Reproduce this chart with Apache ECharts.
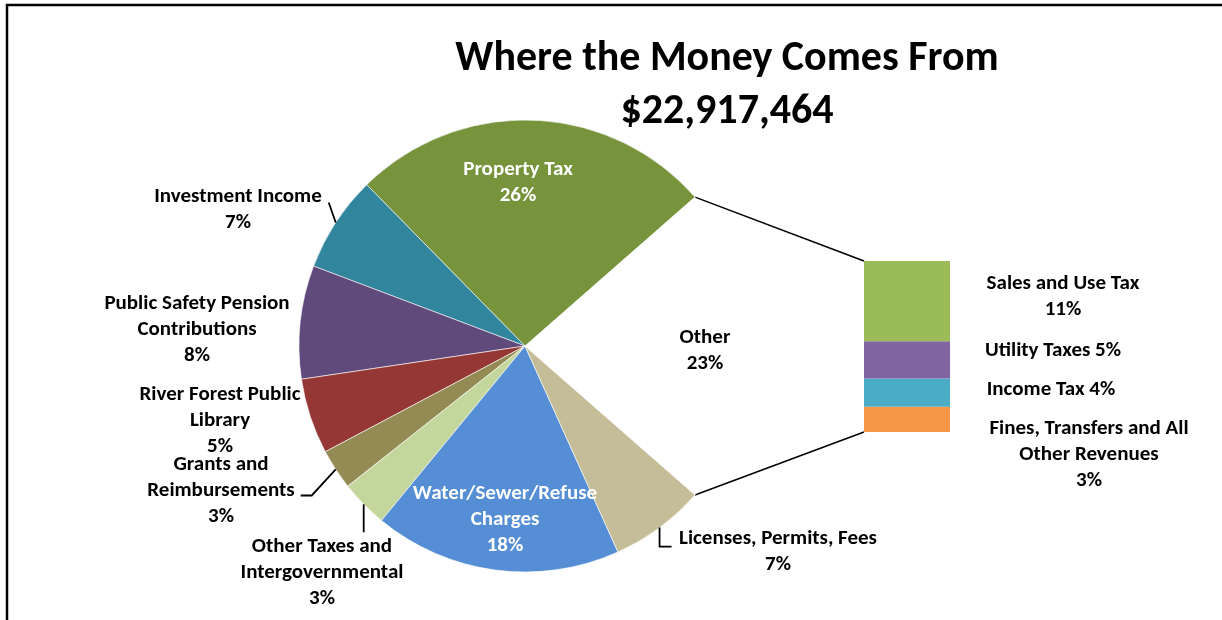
<!DOCTYPE html>
<html><head><meta charset="utf-8">
<script src="https://cdn.jsdelivr.net/npm/echarts@6/dist/echarts.min.js"></script>
<style>html,body{margin:0;padding:0;background:#fff}#c{width:1222px;height:620px}</style>
</head><body><div id="c"></div>
<script>
const titleText = 'Where the Money Comes From';
const totalRevenue = 22917464;

const pieCategories = ['Property Tax','Investment Income','Public Safety Pension Contributions','River Forest Public Library','Grants and Reimbursements','Other Taxes and Intergovernmental','Water/Sewer/Refuse Charges','Licenses, Permits, Fees','Other'];
const pieValues = [25.9, 6.9, 8.1, 5.4, 2.9, 3.4, 17.7, 6.8, 22.9];
const pieLabelText = ['Property Tax\n{p}','Investment Income\n{p}','Public Safety Pension\nContributions\n{p}','River Forest Public\nLibrary\n{p}','Grants and\nReimbursements\n{p}','Other Taxes and\nIntergovernmental\n{p}','Water/Sewer/Refuse\nCharges\n{p}','Licenses, Permits, Fees\n{p}','Other\n{p}'];

const otherCategories = ['Sales and Use Tax','Utility Taxes','Income Tax','Fines, Transfers and All Other Revenues'];
const otherValues = [10.8, 5.0, 3.8, 3.4];
const otherLabelText = ['Sales and Use Tax\n{p}','Utility Taxes {p}','Income Tax {p}','Fines, Transfers and All\nOther Revenues\n{p}'];

// styles / positions
const FONT = 'Carlito, Lato, sans-serif';
const pieColors = ['#77933C','#31859C','#604A7B','#953735','#948A54','#C3D69B','#558ED5','#C4BD97','#FFFFFF'];
const barColors = ['#9BBB59','#8064A2','#4BACC6','#F79646'];
const pieLabelPos = [[518,183],[238,210],[197,330],[220,421],[221,491],[322,573],[505,520],[778,552],[705,351]];
const whiteLabel = [true,false,false,false,false,false,true,false,false];
// leader line bends, as offsets from the slice edge point at the slice's mid angle
const leaderBends = {1:[[-7,-20]], 4:[[-24,26],[-35,26]], 5:[[0,28]], 7:[[0,19],[12,19]]};
const barLabelPos = [[1063,297],[1053,351],[1051,390],[1089,455]];
const PIE_C = [525, 346], PIE_R = 226;

const chart = echarts.init(document.getElementById('c'), null, {renderer:'canvas'});
const pieTotal = pieValues.reduce((a,b)=>a+b,0);
const otherIdx = pieValues.length - 1;
const startAngle = pieValues[otherIdx] / pieTotal * 180;
const otherSum = otherValues.reduce((a,b)=>a+b,0);

const labelBase = {color:'#000', fontWeight:'bold', fontSize:21, lineHeight:26, fontFamily:FONT, align:'center'};

const pieData = pieCategories.map((n,i)=>({
  name:n, value:pieValues[i],
  itemStyle:{color:pieColors[i], borderColor:'#fff', borderWidth: i===otherIdx?0:0.6},
  label:{color: whiteLabel[i]?'#fff':'#000'}
}));

const barSeries = [];
for (let i = otherValues.length-1; i >= 0; i--) {
  barSeries.push({
    type:'bar', name:otherCategories[i], stack:'other', barWidth:'100%',
    data:[otherValues[i]], itemStyle:{color:barColors[i]},
    label:{show:true, position:'right', ...labelBase,
      formatter: () => otherLabelText[i].replace('{p}', Math.round(otherValues[i]) + '%')},
    labelLayout: () => ({x:barLabelPos[i][0], y:barLabelPos[i][1], align:'center', verticalAlign:'middle'}),
    emphasis:{disabled:true}, silent:true
  });
}

chart.setOption({
  animation:false,
  backgroundColor:'#fff',
  title:{
    text: titleText + '\n$' + totalRevenue.toLocaleString('en-US'),
    left: 722, top: 28, textAlign:'center',
    textStyle:{fontFamily:FONT, fontWeight:'bold', fontSize:42, lineHeight:53, color:'#000'}
  },
  grid:{left:864, top:261, width:86, height:171},
  xAxis:{type:'category', data:['Other'], show:false},
  yAxis:{type:'value', min:0, max:otherSum, show:false},
  series:[{
    type:'pie', center:PIE_C, radius:PIE_R, startAngle:startAngle, clockwise:false,
    data:pieData, silent:true, emphasis:{disabled:true},
    label:{show:true, position:'outside', ...labelBase,
      formatter: p => pieLabelText[p.dataIndex].replace('{p}', Math.round(p.percent) + '%')},
    labelLine:{show:false},
    labelLayout: p => ({x:pieLabelPos[p.dataIndex][0], y:pieLabelPos[p.dataIndex][1], align:'center', verticalAlign:'middle'})
  }, ...barSeries]
});

// connector lines from pie "Other" slice edges to the bar
const a = startAngle * Math.PI / 180;
const px = PIE_C[0] + PIE_R*Math.cos(a);
const pyTop = PIE_C[1] - PIE_R*Math.sin(a);
const pyBot = PIE_C[1] + PIE_R*Math.sin(a);
const rect = chart.getModel().getComponent('grid').coordinateSystem.getRect();
const barTop = chart.convertToPixel({gridIndex:0}, ['Other', otherSum])[1];
const barBot = chart.convertToPixel({gridIndex:0}, ['Other', 0])[1];

const graphics = [
  {type:'rect', shape:{x:7, y:5, width:1400, height:800}, style:{fill:null, stroke:'#000', lineWidth:2.5}, silent:true},
  {type:'line', shape:{x1:px, y1:pyTop, x2:rect.x, y2:barTop}, style:{stroke:'#000', lineWidth:1.5}, silent:true},
  {type:'line', shape:{x1:px, y1:pyBot, x2:rect.x, y2:barBot}, style:{stroke:'#000', lineWidth:1.5}, silent:true}
];
// leader lines
let acc = 0;
pieValues.forEach((v,i)=>{
  const mid = startAngle + (acc + v/2) / pieTotal * 360;
  acc += v;
  if (!leaderBends[i]) return;
  const r = mid * Math.PI / 180;
  const sx = PIE_C[0] + PIE_R*Math.cos(r), sy = PIE_C[1] - PIE_R*Math.sin(r);
  const pts = [[sx,sy]].concat(leaderBends[i].map(o=>[sx+o[0], sy+o[1]]));
  graphics.push({type:'polyline', shape:{points:pts}, style:{stroke:'#000', lineWidth:1.8, fill:null}, silent:true, z:10});
});
chart.setOption({graphic:graphics});
</script></body></html>
